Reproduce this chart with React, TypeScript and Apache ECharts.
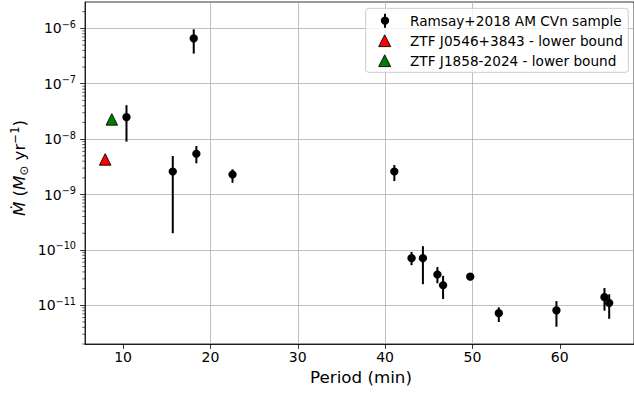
import React, { useEffect, useRef } from 'react';
import * as echarts from 'echarts';

const FONT = '"DejaVu Sans", sans-serif';

// Ramsay+2018 AM CVn sample: orbital period (min) and mass-transfer rate (Msun/yr)
const PERIOD = [10.39, 18.09, 15.69, 18.39, 22.53, 41.06, 43.03, 44.33, 45.99, 46.64, 49.75, 53.02, 59.62, 65.12, 65.66];
const MDOT = [2.5e-8, 6.6e-7, 2.6e-9, 5.45e-9, 2.3e-9, 2.6e-9, 7.1e-11, 7.1e-11, 3.6e-11, 2.3e-11, 3.3e-11, 7.2e-12, 8.1e-12, 1.4e-11, 1.1e-11];
const MDOT_LO = [9e-9, 3.5e-7, 2.0e-10, 3.66e-9, 1.63e-9, 1.75e-9, 5.3e-11, 2.4e-11, 2.5e-11, 1.3e-11, 3.2e-11, 5.0e-12, 4.1e-12, 8.0e-12, 5.7e-12];
const MDOT_HI = [4.1e-8, 9.6e-7, 4.95e-9, 7.5e-9, 2.85e-9, 3.4e-9, 9.2e-11, 1.17e-10, 4.9e-11, 3.4e-11, 3.4e-11, 9.2e-12, 1.19e-11, 2.05e-11, 1.58e-11];

// ZTF lower bounds [period, mdot]
const ZTF0546 = [7.95, 4.3e-9];
const ZTF1858 = [8.71, 2.27e-8];

const SERIES_NAMES = [
  'Ramsay+2018 AM CVn sample',
  'ZTF J0546+3843 - lower bound',
  'ZTF J1858-2024 - lower bound',
];

const X_MIN = 5.64;
const X_MAX = 68.5;
const X_TICKS = [10, 20, 30, 40, 50, 60];
const Y_MIN = 2.0e-12;
const Y_MAX = 2.99e-6;

// matplotlib-style log minor ticks (2..9 x 10^n)
const MINOR_TICKS: number[] = [];
for (let e = -12; e <= -6; e++) {
  for (let m = 2; m <= 9; m++) {
    const v = m * Math.pow(10, e);
    if (v >= Y_MIN * 0.999 && v <= Y_MAX) MINOR_TICKS.push(v);
  }
}

export default function App() {
  const ref = useRef<HTMLDivElement>(null);
  useEffect(() => {
    if (!ref.current) return;
    const chart = echarts.init(ref.current, undefined, { renderer: 'svg' });
    const axisLineStyle = { color: '#000', width: 0.8 };
    const gridLineStyle = { color: '#b0b0b0', width: 0.8 };
    const rowY = [20.7, 40.8, 60.8];
    chart.setOption({
      animation: false,
      backgroundColor: '#fff',
      grid: { left: 85, top: 2, right: -3, bottom: 53, show: true, borderColor: '#000', borderWidth: 0.8, backgroundColor: 'transparent' },
      xAxis: {
        type: 'value',
        min: X_MIN,
        max: X_MAX,
        axisLine: { show: true, onZero: false, lineStyle: axisLineStyle },
        axisTick: { show: true, length: 4.9, lineStyle: axisLineStyle, customValues: X_TICKS },
        axisLabel: { showMinLabel: false, showMaxLabel: false, margin: 6, color: '#000', fontSize: 14, fontFamily: FONT },
        splitLine: { show: true, showMinLine: false, showMaxLine: false, lineStyle: gridLineStyle },
      },
      yAxis: {
        type: 'log',
        logBase: 10,
        min: Y_MIN,
        max: Y_MAX,
        axisLine: { show: true, lineStyle: axisLineStyle },
        axisTick: { show: true, length: 4.9, lineStyle: axisLineStyle },
        axisLabel: {
          showMinLabel: false,
          showMaxLabel: false,
          margin: 9,
          color: '#000',
          formatter: (v: number) => {
            const e = Math.round(Math.log10(v));
            return `{b|10}{s|${e < 0 ? '\u2212' : ''}${Math.abs(e)}}`;
          },
          rich: {
            b: { fontSize: 14, fontFamily: FONT, color: '#000', lineHeight: 18, verticalAlign: 'middle' },
            s: { fontSize: 9.7, fontFamily: FONT, color: '#000', lineHeight: 10, verticalAlign: 'top' },
          },
        },
        splitLine: { show: true, showMinLine: false, showMaxLine: false, lineStyle: gridLineStyle },
      },
      series: [
        {
          type: 'custom',
          name: 'minorTicks',
          silent: true,
          z: 5,
          data: MINOR_TICKS.map((v) => [X_MIN, v]),
          renderItem: (params: any, api: any) => {
            const p = api.coord([api.value(0), api.value(1)]);
            return {
              type: 'line',
              shape: { x1: p[0] - 2.8, y1: p[1], x2: p[0], y2: p[1] },
              style: { stroke: '#000', lineWidth: 0.6 },
            };
          },
        },
        {
          type: 'custom',
          name: 'errorbars',
          silent: true,
          z: 3,
          encode: { x: 0, y: [1, 2] },
          data: PERIOD.map((p, i) => [p, MDOT_LO[i], MDOT_HI[i]]),
          renderItem: (params: any, api: any) => {
            const lo = api.coord([api.value(0), api.value(1)]);
            const hi = api.coord([api.value(0), api.value(2)]);
            return {
              type: 'line',
              shape: { x1: lo[0], y1: lo[1], x2: hi[0], y2: hi[1] },
              style: { stroke: '#000', lineWidth: 2 },
            };
          },
        },
        {
          type: 'scatter',
          name: SERIES_NAMES[0],
          z: 4,
          symbol: 'circle',
          symbolSize: 8.3,
          itemStyle: { color: '#000', opacity: 1 },
          data: PERIOD.map((p, i) => [p, MDOT[i]]),
        },
        {
          type: 'scatter',
          name: SERIES_NAMES[1],
          z: 4,
          symbol: 'triangle',
          symbolSize: [11.5, 11.5],
          itemStyle: { color: '#ff0000', borderColor: '#000', borderWidth: 0.9, opacity: 1 },
          data: [ZTF0546],
        },
        {
          type: 'scatter',
          name: SERIES_NAMES[2],
          z: 4,
          symbol: 'triangle',
          symbolSize: [11.5, 11.5],
          itemStyle: { color: '#008000', borderColor: '#000', borderWidth: 0.9, opacity: 1 },
          data: [ZTF1858],
        },
      ],
      graphic: [
        {
          type: 'text',
          x: 19,
          y: 168,
          rotation: Math.PI / 2,
          z: 10,
          style: {
            text: '{i|\u1E40}{n| (}{i|M}{sub|\u2299}{n| yr}{sup|\u22121}{n|)}',
            align: 'center',
            verticalAlign: 'middle',
            fill: '#000',
            fontSize: 16.7,
            fontFamily: FONT,
            rich: {
              i: { fontStyle: 'italic', fontSize: 16.7, fontFamily: FONT, lineHeight: 21, verticalAlign: 'middle', fill: '#000' },
              n: { fontSize: 16.7, fontFamily: FONT, lineHeight: 21, verticalAlign: 'middle', fill: '#000' },
              sub: { fontSize: 11.7, fontFamily: FONT, lineHeight: 13, verticalAlign: 'bottom', fill: '#000' },
              sup: { fontSize: 11.7, fontFamily: FONT, lineHeight: 12, verticalAlign: 'top', fill: '#000' },
            },
          },
        },
        {
          type: 'text',
          x: 361,
          y: 377,
          z: 10,
          style: { text: 'Period (min)', align: 'center', verticalAlign: 'middle', fill: '#000', fontSize: 16.7, fontFamily: FONT },
        },
        {
          type: 'group',
          z: 20,
          children: [
            {
              type: 'rect',
              shape: { x: 365.7, y: 8.3, width: 262.6, height: 64, r: 3 },
              style: { fill: 'rgba(255,255,255,0.8)', stroke: '#cccccc', lineWidth: 1 },
              z: 20,
            },
            {
              type: 'line',
              shape: { x1: 385, y1: rowY[0] - 7, x2: 385, y2: rowY[0] + 7 },
              style: { stroke: '#000', lineWidth: 2 },
              z: 21,
            },
            {
              type: 'circle',
              shape: { cx: 385, cy: rowY[0], r: 4.15 },
              style: { fill: '#000' },
              z: 21,
            },
            {
              type: 'polygon',
              shape: { points: [[384.7, rowY[1] - 6], [390.7, rowY[1] + 5.8], [378.7, rowY[1] + 5.8]] },
              style: { fill: '#ff0000', stroke: '#000', lineWidth: 0.9 },
              z: 21,
            },
            {
              type: 'polygon',
              shape: { points: [[384.7, rowY[2] - 6], [390.7, rowY[2] + 5.8], [378.7, rowY[2] + 5.8]] },
              style: { fill: '#008000', stroke: '#000', lineWidth: 0.9 },
              z: 21,
            },
            ...SERIES_NAMES.map((name, i) => ({
              type: 'text',
              x: 410,
              y: rowY[i],
              z: 21,
              style: { text: name, align: 'left', verticalAlign: 'middle', fill: '#000', fontSize: 13.65, fontFamily: FONT },
            })),
          ],
        },
      ],
    });
    return () => chart.dispose();
  }, []);
  return (
    <div
      ref={ref}
      style={{ position: 'fixed', left: 0, top: 0, width: 634, height: 397, background: '#fff' }}
    />
  );
}
